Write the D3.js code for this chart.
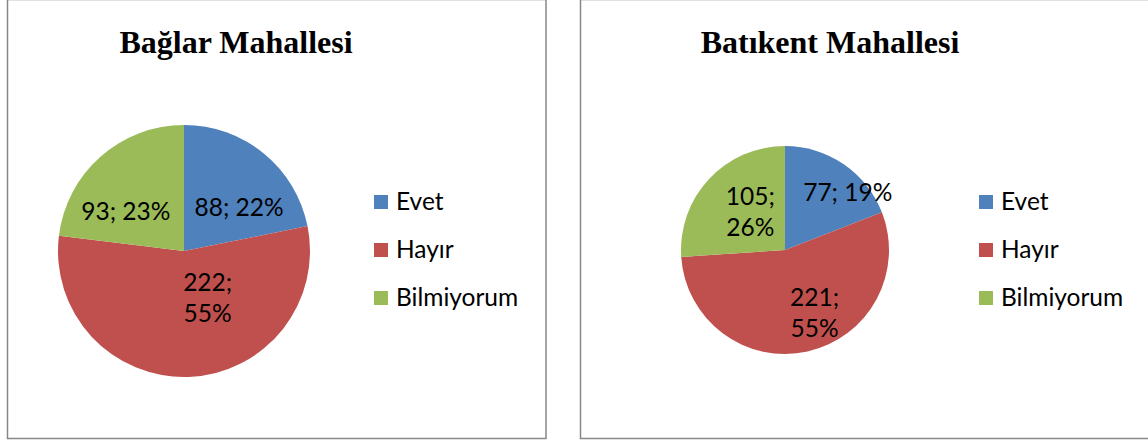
<!DOCTYPE html>
<html>
<head>
<meta charset="utf-8">
<script src="https://cdn.jsdelivr.net/npm/d3@7"></script>
<style>
  body { margin: 0; background: #fff; }
  svg { display: block; }
  .title { font-family: "Liberation Serif", "Times New Roman", serif; font-weight: bold; font-size: 32px; }
  .lbl, .leg { font-family: Lato, "Noto Sans", sans-serif; font-size: 24.5px; fill: #000; }
</style>
</head>
<body>
<svg id="chart" width="1148" height="442"></svg>
<script>
"use strict";

// kategoriler (lejant sırası)
const categories = ["Evet", "Hayır", "Bilmiyorum"];
const colors = ["#4F81BD", "#C0504D", "#9BBB59"];

// mahalle başlıkları
const titles = ["Bağlar Mahallesi", "Batıkent Mahallesi"];

// değerler
const baglarValues = [88, 222, 93];
const batikentValues = [77, 221, 105];

const svg = d3.select("#chart");
svg.append("rect").attr("width", 1148).attr("height", 442).attr("fill", "#fff");

// her grafik için yerleşim; labelPos = [açı kaydırma (derece), yarıçap oranı] — Excel'in etiket yerleşimine yaklaşmak için
const panels = [
  {
    title: titles[0], values: baglarValues, box: [7.5, -0.5, 538.5, 439],
    titleX: 236, cx: 184, cy: 251, r: 126, legX: 374,
    labelPos: [[12, 0.56], [-25, 0.41], [-14, 0.56]]
  },
  {
    title: titles[1], values: batikentValues, box: [580.5, -0.5, 600, 439],
    titleX: 830, cx: 785, cy: 250, r: 104, legX: 979,
    labelPos: [[13, 0.82], [-13, 0.66], [5, 0.5]]
  }
];

panels.forEach(function (p) {
  const g = svg.append("g");

  // çerçeve
  g.append("rect")
    .attr("x", p.box[0]).attr("y", p.box[1])
    .attr("width", p.box[2]).attr("height", p.box[3])
    .attr("fill", "none")
    .attr("stroke", "#878787")
    .attr("stroke-width", 1.5);

  g.append("text")
    .attr("class", "title")
    .attr("x", p.titleX)
    .attr("y", 53)
    .attr("text-anchor", "middle")
    .text(p.title);

  const total = d3.sum(p.values);
  const pie = d3.pie().sort(null).value((d) => d)(p.values);
  const arc = d3.arc().innerRadius(0).outerRadius(p.r);

  const pieG = g.append("g").attr("transform", `translate(${p.cx},${p.cy})`);

  pieG.selectAll("path")
    .data(pie)
    .enter()
    .append("path")
    .attr("d", arc)
    .attr("fill", (d, i) => colors[i]);

  // etiketler: "değer; yüzde" — üç haneli değerler iki satıra kırılıyor
  pieG.selectAll("text")
    .data(pie)
    .enter()
    .append("text")
    .attr("class", "lbl")
    .attr("text-anchor", "middle")
    .each(function (d, i) {
      const mid = (d.startAngle + d.endAngle) / 2 + (p.labelPos[i][0] * Math.PI) / 180;
      const rr = p.r * p.labelPos[i][1];
      const c = [Math.sin(mid) * rr, -Math.cos(mid) * rr];
      const pct = Math.round((d.value / total) * 100) + "%";
      const t = d3.select(this);
      if (String(d.value).length > 2) {
        t.append("tspan").attr("x", c[0]).attr("y", c[1] - 6).text(d.value + ";");
        t.append("tspan").attr("x", c[0]).attr("y", c[1] + 25).text(pct);
      } else {
        t.append("tspan").attr("x", c[0]).attr("y", c[1] + 9).text(d.value + "; " + pct);
      }
    });

  // lejant
  const leg = g.selectAll("g.legItem")
    .data(categories)
    .enter()
    .append("g")
    .attr("class", "legItem")
    .attr("transform", (d, i) => `translate(${p.legX},${202 + i * 48})`);

  leg.append("rect")
    .attr("x", 0).attr("y", -7)
    .attr("width", 14).attr("height", 14)
    .attr("fill", (d, i) => colors[i]);

  leg.append("text")
    .attr("class", "leg")
    .attr("x", 22)
    .attr("y", 8)
    .text((d) => d);
});
</script>
</body>
</html>
